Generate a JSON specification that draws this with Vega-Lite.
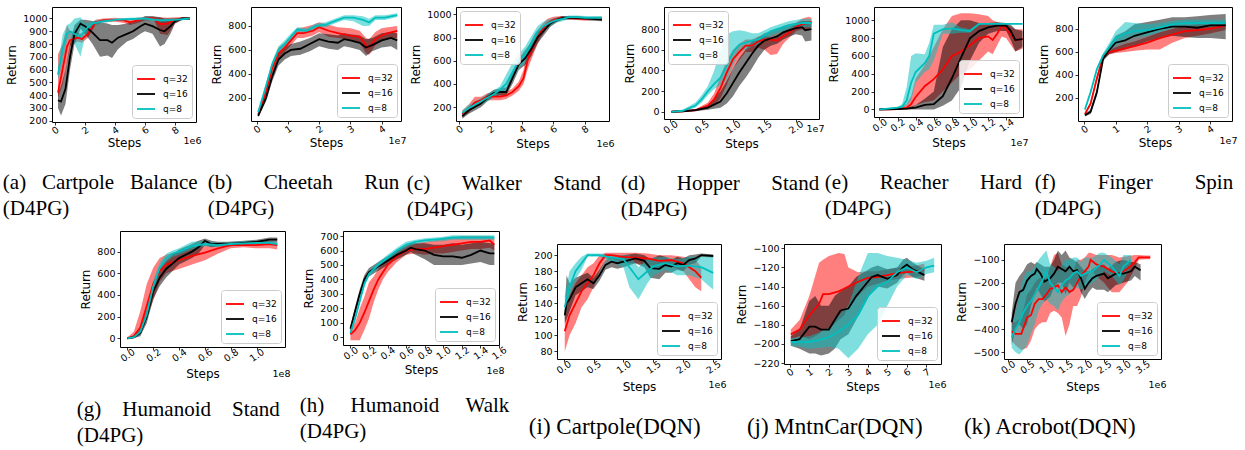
{
"$schema":"https://vega.github.io/schema/vega-lite/v6.json",
"padding":{"left":2,"top":6,"right":0,"bottom":0},
"config":{
 "view":{"stroke":"#000","strokeWidth":1},
 "font":"DejaVu Sans",
 "axis":{"labelFont":"DejaVu Sans","labelFontSize":9.5,"labelColor":"#000","titleFont":"DejaVu Sans","titleFontSize":12,"titleFontWeight":"normal","titleColor":"#000","tickColor":"#000","tickSize":3,"tickWidth":0.8,"domain":false,"grid":false,"labelFlush":false,"labelOverlap":false,"labelPadding":2,"titlePadding":4},
 "axisX":{"labelAngle":-35,"labelAlign":"center","labelBaseline":"middle","labelPadding":5,"titleBaseline":"middle"},
 "axisRight":{"labels":false,"ticks":false,"domain":false,"titleAngle":0,"titleAlign":"right","titleBaseline":"middle","titleX":5,"titleFontSize":9.5},
 "legend":{"orient":"bottom-right","offset":4,"padding":4,"strokeColor":"#cccccc","fillColor":"rgba(255,255,255,0.85)","cornerRadius":3,"symbolType":"stroke","symbolSize":324,"symbolStrokeWidth":1.8,"symbolOpacity":1,"labelFont":"DejaVu Sans","labelFontSize":9,"labelColor":"#000","labelOffset":7,"rowPadding":-3.5},
 "title":{"font":"Liberation Serif","fontSize":21,"fontWeight":"normal","color":"#000","orient":"bottom","anchor":"start","frame":"bounds","lineHeight":26,"offset":24,"dx":-3}
},
"datasets":{
"a":[
{"q":"q=32","x":0.2,"y":420,"l":380,"h":720},{"q":"q=32","x":0.5,"y":600,"l":480,"h":800},{"q":"q=32","x":0.8,"y":780,"l":650,"h":950},{"q":"q=32","x":1.0,"y":830,"l":780,"h":900},{"q":"q=32","x":1.5,"y":850,"l":820,"h":890},{"q":"q=32","x":1.8,"y":840,"l":810,"h":880},{"q":"q=32","x":2.2,"y":880,"l":850,"h":920},{"q":"q=32","x":2.7,"y":970,"l":950,"h":990},{"q":"q=32","x":3.2,"y":985,"l":970,"h":1000},{"q":"q=32","x":4.0,"y":990,"l":975,"h":1005},{"q":"q=32","x":4.6,"y":985,"l":965,"h":1000},{"q":"q=32","x":5.0,"y":970,"l":950,"h":1000},{"q":"q=32","x":5.5,"y":985,"l":965,"h":1005},{"q":"q=32","x":6.0,"y":1000,"l":985,"h":1010},{"q":"q=32","x":6.6,"y":1000,"l":990,"h":1010},{"q":"q=32","x":7.0,"y":955,"l":880,"h":1010},{"q":"q=32","x":7.5,"y":960,"l":870,"h":1005},{"q":"q=32","x":8.0,"y":990,"l":960,"h":1010},{"q":"q=32","x":8.5,"y":1000,"l":990,"h":1010},{"q":"q=32","x":9.0,"y":1000,"l":990,"h":1008},
{"q":"q=16","x":0.2,"y":360,"l":300,"h":420},{"q":"q=16","x":0.4,"y":350,"l":240,"h":470},{"q":"q=16","x":0.7,"y":450,"l":330,"h":600},{"q":"q=16","x":1.0,"y":700,"l":600,"h":800},{"q":"q=16","x":1.3,"y":880,"l":800,"h":950},{"q":"q=16","x":1.7,"y":960,"l":920,"h":990},{"q":"q=16","x":2.0,"y":940,"l":880,"h":990},{"q":"q=16","x":2.5,"y":890,"l":800,"h":980},{"q":"q=16","x":3.0,"y":830,"l":700,"h":970},{"q":"q=16","x":3.5,"y":830,"l":710,"h":960},{"q":"q=16","x":3.8,"y":810,"l":690,"h":950},{"q":"q=16","x":4.2,"y":850,"l":760,"h":950},{"q":"q=16","x":4.8,"y":880,"l":820,"h":960},{"q":"q=16","x":5.2,"y":900,"l":840,"h":970},{"q":"q=16","x":5.7,"y":940,"l":880,"h":1000},{"q":"q=16","x":6.0,"y":960,"l":900,"h":1020},{"q":"q=16","x":6.5,"y":940,"l":880,"h":1020},{"q":"q=16","x":7.0,"y":910,"l":780,"h":1010},{"q":"q=16","x":7.3,"y":900,"l":800,"h":1000},{"q":"q=16","x":7.7,"y":940,"l":880,"h":1000},{"q":"q=16","x":8.0,"y":980,"l":960,"h":1000},{"q":"q=16","x":8.5,"y":1000,"l":990,"h":1010},{"q":"q=16","x":9.0,"y":1000,"l":990,"h":1008},
{"q":"q=8","x":0.2,"y":560,"l":520,"h":620},{"q":"q=8","x":0.5,"y":760,"l":650,"h":870},{"q":"q=8","x":0.8,"y":880,"l":820,"h":950},{"q":"q=8","x":1.0,"y":900,"l":850,"h":960},{"q":"q=8","x":1.3,"y":880,"l":800,"h":1000},{"q":"q=8","x":1.7,"y":860,"l":700,"h":1010},{"q":"q=8","x":2.0,"y":910,"l":860,"h":960},{"q":"q=8","x":2.5,"y":960,"l":940,"h":980},{"q":"q=8","x":3.0,"y":975,"l":960,"h":990},{"q":"q=8","x":4.0,"y":990,"l":980,"h":1000},{"q":"q=8","x":5.0,"y":995,"l":985,"h":1005},{"q":"q=8","x":6.0,"y":1000,"l":990,"h":1010},{"q":"q=8","x":7.0,"y":985,"l":975,"h":995},{"q":"q=8","x":8.0,"y":990,"l":980,"h":1000},{"q":"q=8","x":9.0,"y":1000,"l":995,"h":1005}
],
"b":[
{"q":"q=32","x":0.05,"y":60,"l":45,"h":75},{"q":"q=32","x":0.3,"y":250,"l":220,"h":280},{"q":"q=32","x":0.5,"y":450,"l":410,"h":490},{"q":"q=32","x":0.7,"y":570,"l":520,"h":620},{"q":"q=32","x":0.9,"y":620,"l":580,"h":660},{"q":"q=32","x":1.1,"y":680,"l":640,"h":720},{"q":"q=32","x":1.3,"y":740,"l":700,"h":780},{"q":"q=32","x":1.5,"y":740,"l":700,"h":790},{"q":"q=32","x":1.8,"y":760,"l":720,"h":810},{"q":"q=32","x":2.0,"y":790,"l":750,"h":830},{"q":"q=32","x":2.3,"y":760,"l":710,"h":810},{"q":"q=32","x":2.6,"y":740,"l":700,"h":790},{"q":"q=32","x":3.0,"y":720,"l":680,"h":780},{"q":"q=32","x":3.3,"y":710,"l":660,"h":760},{"q":"q=32","x":3.5,"y":640,"l":570,"h":700},{"q":"q=32","x":3.6,"y":620,"l":560,"h":690},{"q":"q=32","x":3.8,"y":690,"l":640,"h":750},{"q":"q=32","x":4.0,"y":720,"l":670,"h":780},{"q":"q=32","x":4.2,"y":740,"l":690,"h":790},{"q":"q=32","x":4.5,"y":760,"l":700,"h":800},
{"q":"q=16","x":0.05,"y":50,"l":40,"h":60},{"q":"q=16","x":0.3,"y":200,"l":170,"h":230},{"q":"q=16","x":0.5,"y":380,"l":340,"h":420},{"q":"q=16","x":0.7,"y":520,"l":470,"h":570},{"q":"q=16","x":0.9,"y":570,"l":520,"h":620},{"q":"q=16","x":1.1,"y":600,"l":550,"h":650},{"q":"q=16","x":1.4,"y":610,"l":560,"h":670},{"q":"q=16","x":1.7,"y":650,"l":590,"h":700},{"q":"q=16","x":2.0,"y":690,"l":630,"h":740},{"q":"q=16","x":2.3,"y":670,"l":610,"h":730},{"q":"q=16","x":2.6,"y":660,"l":600,"h":720},{"q":"q=16","x":2.8,"y":690,"l":630,"h":740},{"q":"q=16","x":3.0,"y":680,"l":620,"h":730},{"q":"q=16","x":3.3,"y":660,"l":600,"h":720},{"q":"q=16","x":3.5,"y":620,"l":550,"h":690},{"q":"q=16","x":3.7,"y":640,"l":590,"h":700},{"q":"q=16","x":4.0,"y":680,"l":620,"h":740},{"q":"q=16","x":4.3,"y":700,"l":630,"h":750},{"q":"q=16","x":4.5,"y":680,"l":600,"h":740},
{"q":"q=8","x":0.05,"y":80,"l":70,"h":90},{"q":"q=8","x":0.3,"y":300,"l":280,"h":320},{"q":"q=8","x":0.5,"y":480,"l":450,"h":510},{"q":"q=8","x":0.7,"y":600,"l":570,"h":630},{"q":"q=8","x":0.9,"y":650,"l":620,"h":680},{"q":"q=8","x":1.1,"y":710,"l":680,"h":740},{"q":"q=8","x":1.3,"y":770,"l":750,"h":790},{"q":"q=8","x":1.6,"y":760,"l":740,"h":780},{"q":"q=8","x":1.9,"y":800,"l":780,"h":820},{"q":"q=8","x":2.2,"y":810,"l":790,"h":830},{"q":"q=8","x":2.5,"y":840,"l":820,"h":860},{"q":"q=8","x":2.8,"y":870,"l":850,"h":890},{"q":"q=8","x":3.1,"y":870,"l":840,"h":890},{"q":"q=8","x":3.4,"y":850,"l":800,"h":880},{"q":"q=8","x":3.6,"y":830,"l":800,"h":860},{"q":"q=8","x":3.8,"y":870,"l":850,"h":890},{"q":"q=8","x":4.1,"y":870,"l":850,"h":890},{"q":"q=8","x":4.5,"y":890,"l":875,"h":905}
],
"c":[
{"q":"q=32","x":0.2,"y":140,"l":120,"h":170},{"q":"q=32","x":0.6,"y":180,"l":150,"h":220},{"q":"q=32","x":1.0,"y":240,"l":200,"h":290},{"q":"q=32","x":1.4,"y":260,"l":230,"h":290},{"q":"q=32","x":1.8,"y":290,"l":260,"h":320},{"q":"q=32","x":2.2,"y":290,"l":260,"h":320},{"q":"q=32","x":2.6,"y":290,"l":260,"h":320},{"q":"q=32","x":3.0,"y":300,"l":270,"h":330},{"q":"q=32","x":3.4,"y":330,"l":300,"h":360},{"q":"q=32","x":3.8,"y":380,"l":340,"h":420},{"q":"q=32","x":4.1,"y":450,"l":400,"h":520},{"q":"q=32","x":4.4,"y":620,"l":540,"h":720},{"q":"q=32","x":4.8,"y":750,"l":680,"h":830},{"q":"q=32","x":5.2,"y":850,"l":800,"h":900},{"q":"q=32","x":5.6,"y":920,"l":880,"h":960},{"q":"q=32","x":6.0,"y":950,"l":920,"h":980},{"q":"q=32","x":6.5,"y":970,"l":950,"h":985},{"q":"q=32","x":7.0,"y":970,"l":955,"h":985},{"q":"q=32","x":7.5,"y":965,"l":950,"h":980},{"q":"q=32","x":8.0,"y":960,"l":945,"h":975},{"q":"q=32","x":8.5,"y":965,"l":950,"h":980},{"q":"q=32","x":9.1,"y":965,"l":950,"h":980},
{"q":"q=16","x":0.2,"y":120,"l":100,"h":140},{"q":"q=16","x":0.6,"y":170,"l":140,"h":200},{"q":"q=16","x":1.0,"y":200,"l":170,"h":240},{"q":"q=16","x":1.4,"y":230,"l":200,"h":260},{"q":"q=16","x":1.8,"y":280,"l":250,"h":310},{"q":"q=16","x":2.2,"y":320,"l":290,"h":350},{"q":"q=16","x":2.6,"y":330,"l":300,"h":360},{"q":"q=16","x":3.0,"y":330,"l":300,"h":370},{"q":"q=16","x":3.4,"y":450,"l":400,"h":500},{"q":"q=16","x":3.8,"y":570,"l":520,"h":620},{"q":"q=16","x":4.2,"y":620,"l":560,"h":690},{"q":"q=16","x":4.6,"y":700,"l":640,"h":760},{"q":"q=16","x":5.0,"y":800,"l":750,"h":850},{"q":"q=16","x":5.4,"y":860,"l":820,"h":900},{"q":"q=16","x":5.8,"y":920,"l":890,"h":950},{"q":"q=16","x":6.2,"y":950,"l":930,"h":970},{"q":"q=16","x":6.6,"y":970,"l":955,"h":985},{"q":"q=16","x":7.0,"y":970,"l":955,"h":985},{"q":"q=16","x":7.5,"y":970,"l":955,"h":985},{"q":"q=16","x":8.0,"y":965,"l":950,"h":980},{"q":"q=16","x":8.5,"y":960,"l":945,"h":975},{"q":"q=16","x":9.1,"y":955,"l":940,"h":970},
{"q":"q=8","x":0.2,"y":150,"l":130,"h":170},{"q":"q=8","x":0.6,"y":190,"l":160,"h":220},{"q":"q=8","x":1.0,"y":220,"l":190,"h":250},{"q":"q=8","x":1.4,"y":250,"l":220,"h":280},{"q":"q=8","x":1.8,"y":280,"l":250,"h":310},{"q":"q=8","x":2.2,"y":310,"l":280,"h":340},{"q":"q=8","x":2.6,"y":350,"l":320,"h":380},{"q":"q=8","x":3.0,"y":400,"l":330,"h":480},{"q":"q=8","x":3.4,"y":500,"l":430,"h":580},{"q":"q=8","x":3.8,"y":600,"l":540,"h":660},{"q":"q=8","x":4.2,"y":650,"l":580,"h":720},{"q":"q=8","x":4.6,"y":750,"l":690,"h":810},{"q":"q=8","x":5.0,"y":850,"l":800,"h":900},{"q":"q=8","x":5.4,"y":900,"l":860,"h":940},{"q":"q=8","x":5.8,"y":930,"l":900,"h":960},{"q":"q=8","x":6.2,"y":950,"l":930,"h":970},{"q":"q=8","x":6.6,"y":960,"l":940,"h":980},{"q":"q=8","x":7.0,"y":975,"l":960,"h":990},{"q":"q=8","x":7.5,"y":975,"l":960,"h":990},{"q":"q=8","x":8.0,"y":970,"l":955,"h":985},{"q":"q=8","x":8.5,"y":970,"l":955,"h":985},{"q":"q=8","x":9.1,"y":970,"l":955,"h":985}
],
"d":[
{"q":"q=32","x":0.02,"y":0,"l":-5,"h":5},{"q":"q=32","x":0.2,"y":5,"l":0,"h":10},{"q":"q=32","x":0.4,"y":15,"l":5,"h":25},{"q":"q=32","x":0.6,"y":60,"l":30,"h":90},{"q":"q=32","x":0.7,"y":120,"l":60,"h":180},{"q":"q=32","x":0.8,"y":230,"l":130,"h":350},{"q":"q=32","x":0.9,"y":380,"l":260,"h":500},{"q":"q=32","x":1.0,"y":510,"l":420,"h":600},{"q":"q=32","x":1.1,"y":580,"l":500,"h":660},{"q":"q=32","x":1.2,"y":640,"l":580,"h":700},{"q":"q=32","x":1.3,"y":640,"l":580,"h":700},{"q":"q=32","x":1.4,"y":680,"l":620,"h":730},{"q":"q=32","x":1.5,"y":700,"l":600,"h":740},{"q":"q=32","x":1.6,"y":700,"l":550,"h":720},{"q":"q=32","x":1.7,"y":690,"l":560,"h":730},{"q":"q=32","x":1.8,"y":730,"l":660,"h":780},{"q":"q=32","x":1.9,"y":770,"l":720,"h":810},{"q":"q=32","x":2.0,"y":820,"l":780,"h":860},{"q":"q=32","x":2.1,"y":850,"l":800,"h":900},{"q":"q=32","x":2.2,"y":860,"l":800,"h":920},{"q":"q=32","x":2.25,"y":870,"l":820,"h":910},
{"q":"q=16","x":0.02,"y":0,"l":-5,"h":5},{"q":"q=16","x":0.2,"y":5,"l":0,"h":10},{"q":"q=16","x":0.4,"y":15,"l":5,"h":25},{"q":"q=16","x":0.6,"y":40,"l":20,"h":60},{"q":"q=16","x":0.8,"y":100,"l":40,"h":200},{"q":"q=16","x":0.9,"y":180,"l":80,"h":300},{"q":"q=16","x":1.0,"y":280,"l":150,"h":420},{"q":"q=16","x":1.1,"y":380,"l":250,"h":520},{"q":"q=16","x":1.2,"y":470,"l":330,"h":600},{"q":"q=16","x":1.3,"y":560,"l":420,"h":680},{"q":"q=16","x":1.4,"y":640,"l":520,"h":720},{"q":"q=16","x":1.5,"y":690,"l":600,"h":760},{"q":"q=16","x":1.6,"y":710,"l":640,"h":780},{"q":"q=16","x":1.7,"y":730,"l":660,"h":800},{"q":"q=16","x":1.8,"y":770,"l":700,"h":830},{"q":"q=16","x":1.9,"y":790,"l":730,"h":850},{"q":"q=16","x":2.0,"y":810,"l":750,"h":860},{"q":"q=16","x":2.1,"y":820,"l":740,"h":880},{"q":"q=16","x":2.15,"y":790,"l":680,"h":880},{"q":"q=16","x":2.25,"y":800,"l":690,"h":880},
{"q":"q=8","x":0.02,"y":0,"l":-5,"h":5},{"q":"q=8","x":0.2,"y":10,"l":0,"h":20},{"q":"q=8","x":0.4,"y":60,"l":40,"h":90},{"q":"q=8","x":0.5,"y":120,"l":90,"h":160},{"q":"q=8","x":0.6,"y":200,"l":160,"h":250},{"q":"q=8","x":0.7,"y":270,"l":220,"h":400},{"q":"q=8","x":0.8,"y":330,"l":260,"h":600},{"q":"q=8","x":0.9,"y":450,"l":300,"h":750},{"q":"q=8","x":1.0,"y":580,"l":450,"h":780},{"q":"q=8","x":1.1,"y":650,"l":580,"h":790},{"q":"q=8","x":1.2,"y":670,"l":600,"h":780},{"q":"q=8","x":1.3,"y":690,"l":630,"h":760},{"q":"q=8","x":1.4,"y":700,"l":650,"h":760},{"q":"q=8","x":1.5,"y":740,"l":700,"h":790},{"q":"q=8","x":1.6,"y":780,"l":740,"h":820},{"q":"q=8","x":1.7,"y":800,"l":760,"h":840},{"q":"q=8","x":1.8,"y":820,"l":780,"h":860},{"q":"q=8","x":1.9,"y":840,"l":800,"h":880},{"q":"q=8","x":2.0,"y":850,"l":810,"h":890},{"q":"q=8","x":2.1,"y":860,"l":820,"h":900},{"q":"q=8","x":2.25,"y":860,"l":820,"h":900}
],
"e":[
{"q":"q=32","x":0.0,"y":0,"l":-10,"h":10},{"q":"q=32","x":0.1,"y":0,"l":-10,"h":10},{"q":"q=32","x":0.2,"y":5,"l":-5,"h":20},{"q":"q=32","x":0.3,"y":20,"l":0,"h":60},{"q":"q=32","x":0.35,"y":60,"l":10,"h":150},{"q":"q=32","x":0.4,"y":140,"l":50,"h":350},{"q":"q=32","x":0.5,"y":260,"l":80,"h":500},{"q":"q=32","x":0.6,"y":340,"l":100,"h":700},{"q":"q=32","x":0.7,"y":450,"l":200,"h":900},{"q":"q=32","x":0.8,"y":600,"l":300,"h":1050},{"q":"q=32","x":0.9,"y":650,"l":400,"h":1080},{"q":"q=32","x":1.0,"y":720,"l":450,"h":1080},{"q":"q=32","x":1.1,"y":800,"l":550,"h":1070},{"q":"q=32","x":1.2,"y":820,"l":650,"h":1050},{"q":"q=32","x":1.25,"y":780,"l":620,"h":1000},{"q":"q=32","x":1.3,"y":850,"l":720,"h":980},{"q":"q=32","x":1.35,"y":940,"l":820,"h":970},{"q":"q=32","x":1.4,"y":900,"l":800,"h":960},{"q":"q=32","x":1.5,"y":780,"l":650,"h":900},{"q":"q=32","x":1.58,"y":790,"l":680,"h":900},
{"q":"q=16","x":0.0,"y":0,"l":-10,"h":10},{"q":"q=16","x":0.2,"y":5,"l":-5,"h":15},{"q":"q=16","x":0.3,"y":10,"l":0,"h":20},{"q":"q=16","x":0.4,"y":20,"l":0,"h":50},{"q":"q=16","x":0.5,"y":50,"l":0,"h":120},{"q":"q=16","x":0.6,"y":60,"l":0,"h":200},{"q":"q=16","x":0.7,"y":150,"l":40,"h":700},{"q":"q=16","x":0.8,"y":350,"l":100,"h":900},{"q":"q=16","x":0.9,"y":580,"l":250,"h":1000},{"q":"q=16","x":1.0,"y":800,"l":550,"h":1000},{"q":"q=16","x":1.1,"y":880,"l":750,"h":970},{"q":"q=16","x":1.2,"y":920,"l":850,"h":970},{"q":"q=16","x":1.3,"y":940,"l":880,"h":980},{"q":"q=16","x":1.4,"y":940,"l":880,"h":970},{"q":"q=16","x":1.45,"y":880,"l":780,"h":950},{"q":"q=16","x":1.5,"y":780,"l":650,"h":900},{"q":"q=16","x":1.58,"y":790,"l":700,"h":880},
{"q":"q=8","x":0.0,"y":0,"l":-10,"h":10},{"q":"q=8","x":0.1,"y":10,"l":0,"h":20},{"q":"q=8","x":0.2,"y":20,"l":10,"h":30},{"q":"q=8","x":0.25,"y":30,"l":10,"h":60},{"q":"q=8","x":0.3,"y":100,"l":40,"h":250},{"q":"q=8","x":0.35,"y":300,"l":100,"h":600},{"q":"q=8","x":0.4,"y":420,"l":300,"h":630},{"q":"q=8","x":0.5,"y":520,"l":420,"h":620},{"q":"q=8","x":0.55,"y":600,"l":450,"h":750},{"q":"q=8","x":0.6,"y":850,"l":550,"h":950},{"q":"q=8","x":0.7,"y":900,"l":850,"h":950},{"q":"q=8","x":0.8,"y":910,"l":850,"h":980},{"q":"q=8","x":0.9,"y":890,"l":860,"h":920},{"q":"q=8","x":1.0,"y":880,"l":860,"h":900},{"q":"q=8","x":1.1,"y":960,"l":950,"h":970},{"q":"q=8","x":1.2,"y":960,"l":955,"h":965},{"q":"q=8","x":1.4,"y":960,"l":955,"h":965},{"q":"q=8","x":1.58,"y":960,"l":955,"h":965}
],
"f":[
{"q":"q=32","x":0.02,"y":60,"l":50,"h":70},{"q":"q=32","x":0.2,"y":150,"l":130,"h":170},{"q":"q=32","x":0.4,"y":370,"l":340,"h":400},{"q":"q=32","x":0.6,"y":560,"l":540,"h":580},{"q":"q=32","x":0.8,"y":600,"l":580,"h":620},{"q":"q=32","x":1.0,"y":610,"l":590,"h":640},{"q":"q=32","x":1.3,"y":630,"l":600,"h":670},{"q":"q=32","x":1.6,"y":650,"l":610,"h":690},{"q":"q=32","x":2.0,"y":680,"l":620,"h":730},{"q":"q=32","x":2.4,"y":720,"l":620,"h":770},{"q":"q=32","x":2.8,"y":750,"l":680,"h":800},{"q":"q=32","x":3.2,"y":780,"l":720,"h":830},{"q":"q=32","x":3.6,"y":790,"l":740,"h":840},{"q":"q=32","x":4.0,"y":800,"l":760,"h":840},{"q":"q=32","x":4.5,"y":830,"l":790,"h":860},
{"q":"q=16","x":0.02,"y":50,"l":40,"h":60},{"q":"q=16","x":0.2,"y":80,"l":60,"h":100},{"q":"q=16","x":0.4,"y":250,"l":220,"h":280},{"q":"q=16","x":0.6,"y":540,"l":520,"h":560},{"q":"q=16","x":0.8,"y":620,"l":580,"h":660},{"q":"q=16","x":1.0,"y":680,"l":600,"h":740},{"q":"q=16","x":1.3,"y":700,"l":620,"h":780},{"q":"q=16","x":1.6,"y":740,"l":650,"h":840},{"q":"q=16","x":2.0,"y":770,"l":690,"h":860},{"q":"q=16","x":2.4,"y":800,"l":720,"h":880},{"q":"q=16","x":2.8,"y":820,"l":740,"h":900},{"q":"q=16","x":3.2,"y":820,"l":730,"h":900},{"q":"q=16","x":3.6,"y":810,"l":720,"h":910},{"q":"q=16","x":4.0,"y":830,"l":720,"h":920},{"q":"q=16","x":4.5,"y":830,"l":710,"h":930},
{"q":"q=8","x":0.02,"y":100,"l":80,"h":120},{"q":"q=8","x":0.2,"y":250,"l":230,"h":270},{"q":"q=8","x":0.4,"y":450,"l":430,"h":470},{"q":"q=8","x":0.6,"y":570,"l":550,"h":590},{"q":"q=8","x":0.8,"y":640,"l":600,"h":680},{"q":"q=8","x":1.0,"y":720,"l":660,"h":780},{"q":"q=8","x":1.3,"y":760,"l":700,"h":860},{"q":"q=8","x":1.6,"y":780,"l":730,"h":850},{"q":"q=8","x":2.0,"y":790,"l":740,"h":840},{"q":"q=8","x":2.4,"y":810,"l":770,"h":850},{"q":"q=8","x":2.8,"y":840,"l":810,"h":870},{"q":"q=8","x":3.2,"y":850,"l":820,"h":880},{"q":"q=8","x":3.6,"y":850,"l":820,"h":880},{"q":"q=8","x":4.0,"y":850,"l":820,"h":880},{"q":"q=8","x":4.5,"y":850,"l":820,"h":880}
],
"g":[
{"q":"q=32","x":0.0,"y":0,"l":-10,"h":10},{"q":"q=32","x":0.05,"y":20,"l":0,"h":60},{"q":"q=32","x":0.1,"y":100,"l":30,"h":250},{"q":"q=32","x":0.15,"y":300,"l":180,"h":500},{"q":"q=32","x":0.2,"y":500,"l":350,"h":650},{"q":"q=32","x":0.25,"y":620,"l":520,"h":740},{"q":"q=32","x":0.3,"y":680,"l":600,"h":770},{"q":"q=32","x":0.35,"y":700,"l":620,"h":790},{"q":"q=32","x":0.4,"y":720,"l":640,"h":800},{"q":"q=32","x":0.5,"y":760,"l":680,"h":840},{"q":"q=32","x":0.6,"y":790,"l":720,"h":860},{"q":"q=32","x":0.7,"y":830,"l":780,"h":880},{"q":"q=32","x":0.8,"y":860,"l":830,"h":890},{"q":"q=32","x":0.9,"y":860,"l":840,"h":890},{"q":"q=32","x":1.0,"y":860,"l":830,"h":900},{"q":"q=32","x":1.1,"y":870,"l":830,"h":900},{"q":"q=32","x":1.16,"y":860,"l":820,"h":890},
{"q":"q=16","x":0.0,"y":0,"l":-5,"h":5},{"q":"q=16","x":0.05,"y":10,"l":0,"h":20},{"q":"q=16","x":0.1,"y":50,"l":20,"h":90},{"q":"q=16","x":0.15,"y":200,"l":140,"h":260},{"q":"q=16","x":0.2,"y":430,"l":360,"h":500},{"q":"q=16","x":0.25,"y":560,"l":480,"h":640},{"q":"q=16","x":0.3,"y":640,"l":560,"h":720},{"q":"q=16","x":0.35,"y":690,"l":620,"h":770},{"q":"q=16","x":0.4,"y":740,"l":680,"h":820},{"q":"q=16","x":0.5,"y":800,"l":740,"h":870},{"q":"q=16","x":0.55,"y":840,"l":780,"h":900},{"q":"q=16","x":0.6,"y":900,"l":860,"h":920},{"q":"q=16","x":0.65,"y":870,"l":840,"h":900},{"q":"q=16","x":0.7,"y":870,"l":850,"h":890},{"q":"q=16","x":0.8,"y":870,"l":850,"h":890},{"q":"q=16","x":0.9,"y":880,"l":860,"h":900},{"q":"q=16","x":1.0,"y":890,"l":870,"h":910},{"q":"q=16","x":1.1,"y":910,"l":890,"h":930},{"q":"q=16","x":1.16,"y":910,"l":890,"h":930},
{"q":"q=8","x":0.0,"y":0,"l":-5,"h":5},{"q":"q=8","x":0.05,"y":10,"l":0,"h":20},{"q":"q=8","x":0.1,"y":60,"l":30,"h":90},{"q":"q=8","x":0.15,"y":220,"l":180,"h":260},{"q":"q=8","x":0.2,"y":480,"l":430,"h":530},{"q":"q=8","x":0.25,"y":650,"l":600,"h":700},{"q":"q=8","x":0.3,"y":740,"l":700,"h":780},{"q":"q=8","x":0.35,"y":780,"l":750,"h":810},{"q":"q=8","x":0.4,"y":800,"l":770,"h":830},{"q":"q=8","x":0.5,"y":850,"l":820,"h":890},{"q":"q=8","x":0.6,"y":870,"l":850,"h":900},{"q":"q=8","x":0.7,"y":860,"l":840,"h":880},{"q":"q=8","x":0.8,"y":870,"l":850,"h":890},{"q":"q=8","x":0.9,"y":875,"l":855,"h":895},{"q":"q=8","x":1.0,"y":880,"l":860,"h":900},{"q":"q=8","x":1.1,"y":880,"l":860,"h":900},{"q":"q=8","x":1.16,"y":870,"l":850,"h":890}
],
"h":[
{"q":"q=32","x":0.0,"y":20,"l":-20,"h":60},{"q":"q=32","x":0.05,"y":50,"l":-20,"h":100},{"q":"q=32","x":0.1,"y":100,"l":-20,"h":200},{"q":"q=32","x":0.15,"y":170,"l":50,"h":280},{"q":"q=32","x":0.2,"y":250,"l":130,"h":380},{"q":"q=32","x":0.25,"y":330,"l":240,"h":420},{"q":"q=32","x":0.3,"y":400,"l":330,"h":470},{"q":"q=32","x":0.35,"y":450,"l":400,"h":510},{"q":"q=32","x":0.4,"y":500,"l":450,"h":550},{"q":"q=32","x":0.5,"y":560,"l":520,"h":600},{"q":"q=32","x":0.6,"y":600,"l":570,"h":640},{"q":"q=32","x":0.7,"y":610,"l":580,"h":650},{"q":"q=32","x":0.8,"y":610,"l":570,"h":660},{"q":"q=32","x":0.9,"y":620,"l":580,"h":670},{"q":"q=32","x":1.0,"y":630,"l":580,"h":690},{"q":"q=32","x":1.1,"y":640,"l":590,"h":690},{"q":"q=32","x":1.2,"y":650,"l":600,"h":700},{"q":"q=32","x":1.3,"y":660,"l":610,"h":700},{"q":"q=32","x":1.4,"y":660,"l":610,"h":700},{"q":"q=32","x":1.5,"y":670,"l":620,"h":700},{"q":"q=32","x":1.55,"y":640,"l":600,"h":680},
{"q":"q=16","x":0.0,"y":60,"l":40,"h":80},{"q":"q=16","x":0.05,"y":180,"l":150,"h":210},{"q":"q=16","x":0.1,"y":300,"l":270,"h":330},{"q":"q=16","x":0.15,"y":400,"l":370,"h":430},{"q":"q=16","x":0.2,"y":450,"l":420,"h":480},{"q":"q=16","x":0.3,"y":490,"l":460,"h":520},{"q":"q=16","x":0.4,"y":530,"l":500,"h":560},{"q":"q=16","x":0.5,"y":570,"l":540,"h":600},{"q":"q=16","x":0.6,"y":600,"l":570,"h":630},{"q":"q=16","x":0.65,"y":620,"l":590,"h":650},{"q":"q=16","x":0.7,"y":610,"l":570,"h":650},{"q":"q=16","x":0.8,"y":600,"l":540,"h":650},{"q":"q=16","x":0.9,"y":570,"l":500,"h":640},{"q":"q=16","x":1.0,"y":560,"l":500,"h":640},{"q":"q=16","x":1.1,"y":560,"l":500,"h":650},{"q":"q=16","x":1.2,"y":550,"l":500,"h":640},{"q":"q=16","x":1.3,"y":570,"l":510,"h":650},{"q":"q=16","x":1.4,"y":600,"l":520,"h":660},{"q":"q=16","x":1.5,"y":580,"l":500,"h":650},{"q":"q=16","x":1.55,"y":580,"l":500,"h":650},
{"q":"q=8","x":0.0,"y":30,"l":10,"h":50},{"q":"q=8","x":0.05,"y":130,"l":110,"h":150},{"q":"q=8","x":0.1,"y":250,"l":230,"h":270},{"q":"q=8","x":0.15,"y":370,"l":350,"h":390},{"q":"q=8","x":0.2,"y":440,"l":420,"h":460},{"q":"q=8","x":0.3,"y":500,"l":480,"h":520},{"q":"q=8","x":0.4,"y":550,"l":530,"h":570},{"q":"q=8","x":0.5,"y":600,"l":580,"h":620},{"q":"q=8","x":0.6,"y":640,"l":620,"h":660},{"q":"q=8","x":0.7,"y":660,"l":645,"h":675},{"q":"q=8","x":0.8,"y":670,"l":655,"h":685},{"q":"q=8","x":0.9,"y":675,"l":660,"h":690},{"q":"q=8","x":1.0,"y":680,"l":665,"h":695},{"q":"q=8","x":1.1,"y":690,"l":675,"h":705},{"q":"q=8","x":1.2,"y":690,"l":675,"h":705},{"q":"q=8","x":1.3,"y":690,"l":675,"h":705},{"q":"q=8","x":1.4,"y":690,"l":675,"h":705},{"q":"q=8","x":1.5,"y":690,"l":675,"h":705},{"q":"q=8","x":1.55,"y":690,"l":675,"h":705}
],
"i":[
{"q":"q=32","x":0.02,"y":105,"l":80,"h":130},{"q":"q=32","x":0.1,"y":125,"l":100,"h":150},{"q":"q=32","x":0.2,"y":140,"l":115,"h":165},{"q":"q=32","x":0.3,"y":155,"l":135,"h":175},{"q":"q=32","x":0.4,"y":165,"l":145,"h":185},{"q":"q=32","x":0.5,"y":175,"l":160,"h":190},{"q":"q=32","x":0.6,"y":190,"l":180,"h":200},{"q":"q=32","x":0.7,"y":200,"l":195,"h":203},{"q":"q=32","x":0.8,"y":200,"l":196,"h":203},{"q":"q=32","x":1.0,"y":198,"l":190,"h":203},{"q":"q=32","x":1.2,"y":197,"l":190,"h":203},{"q":"q=32","x":1.4,"y":196,"l":188,"h":202},{"q":"q=32","x":1.6,"y":193,"l":185,"h":200},{"q":"q=32","x":1.8,"y":194,"l":186,"h":200},{"q":"q=32","x":2.0,"y":190,"l":180,"h":198},{"q":"q=32","x":2.1,"y":185,"l":170,"h":197},{"q":"q=32","x":2.2,"y":180,"l":160,"h":195},{"q":"q=32","x":2.3,"y":172,"l":155,"h":185},
{"q":"q=16","x":0.02,"y":125,"l":115,"h":135},{"q":"q=16","x":0.05,"y":140,"l":120,"h":175},{"q":"q=16","x":0.1,"y":145,"l":130,"h":165},{"q":"q=16","x":0.2,"y":160,"l":150,"h":172},{"q":"q=16","x":0.3,"y":165,"l":155,"h":175},{"q":"q=16","x":0.4,"y":170,"l":160,"h":178},{"q":"q=16","x":0.5,"y":165,"l":158,"h":172},{"q":"q=16","x":0.6,"y":175,"l":168,"h":182},{"q":"q=16","x":0.7,"y":188,"l":182,"h":194},{"q":"q=16","x":0.8,"y":192,"l":185,"h":198},{"q":"q=16","x":0.9,"y":190,"l":183,"h":197},{"q":"q=16","x":1.0,"y":192,"l":185,"h":200},{"q":"q=16","x":1.2,"y":196,"l":190,"h":202},{"q":"q=16","x":1.35,"y":193,"l":185,"h":200},{"q":"q=16","x":1.45,"y":184,"l":172,"h":195},{"q":"q=16","x":1.6,"y":183,"l":170,"h":200},{"q":"q=16","x":1.7,"y":188,"l":178,"h":198},{"q":"q=16","x":1.8,"y":186,"l":178,"h":194},{"q":"q=16","x":1.9,"y":190,"l":182,"h":198},{"q":"q=16","x":2.0,"y":188,"l":180,"h":196},{"q":"q=16","x":2.1,"y":194,"l":188,"h":200},{"q":"q=16","x":2.2,"y":196,"l":190,"h":201},{"q":"q=16","x":2.3,"y":200,"l":198,"h":202},{"q":"q=16","x":2.5,"y":199,"l":197,"h":201},
{"q":"q=8","x":0.02,"y":135,"l":120,"h":150},{"q":"q=8","x":0.1,"y":160,"l":150,"h":180},{"q":"q=8","x":0.2,"y":180,"l":170,"h":190},{"q":"q=8","x":0.3,"y":190,"l":182,"h":198},{"q":"q=8","x":0.4,"y":200,"l":198,"h":202},{"q":"q=8","x":0.6,"y":200,"l":198,"h":202},{"q":"q=8","x":0.8,"y":197,"l":192,"h":201},{"q":"q=8","x":1.0,"y":195,"l":185,"h":200},{"q":"q=8","x":1.1,"y":185,"l":160,"h":200},{"q":"q=8","x":1.25,"y":170,"l":145,"h":185},{"q":"q=8","x":1.4,"y":180,"l":165,"h":195},{"q":"q=8","x":1.5,"y":186,"l":175,"h":197},{"q":"q=8","x":1.7,"y":190,"l":182,"h":198},{"q":"q=8","x":1.9,"y":186,"l":175,"h":195},{"q":"q=8","x":2.1,"y":187,"l":175,"h":198},{"q":"q=8","x":2.3,"y":185,"l":170,"h":198},{"q":"q=8","x":2.5,"y":178,"l":157,"h":199}
],
"j":[
{"q":"q=32","x":0.05,"y":-190,"l":-195,"h":-185},{"q":"q=32","x":0.5,"y":-185,"l":-192,"h":-175},{"q":"q=32","x":1.0,"y":-170,"l":-195,"h":-150},{"q":"q=32","x":1.5,"y":-158,"l":-190,"h":-115},{"q":"q=32","x":1.7,"y":-148,"l":-185,"h":-112},{"q":"q=32","x":2.0,"y":-148,"l":-185,"h":-108},{"q":"q=32","x":2.5,"y":-145,"l":-175,"h":-105},{"q":"q=32","x":2.8,"y":-142,"l":-170,"h":-106},{"q":"q=32","x":3.0,"y":-140,"l":-160,"h":-120},{"q":"q=32","x":3.5,"y":-135,"l":-150,"h":-125},{"q":"q=32","x":4.0,"y":-131,"l":-140,"h":-124},{"q":"q=32","x":4.5,"y":-130,"l":-137,"h":-124},{"q":"q=32","x":5.0,"y":-128,"l":-134,"h":-122},{"q":"q=32","x":5.5,"y":-126,"l":-132,"h":-120},{"q":"q=32","x":6.0,"y":-125,"l":-131,"h":-119},{"q":"q=32","x":6.5,"y":-124,"l":-130,"h":-118},{"q":"q=32","x":6.9,"y":-122,"l":-128,"h":-116},
{"q":"q=16","x":0.05,"y":-197,"l":-202,"h":-192},{"q":"q=16","x":0.5,"y":-195,"l":-205,"h":-185},{"q":"q=16","x":1.0,"y":-182,"l":-210,"h":-155},{"q":"q=16","x":1.3,"y":-182,"l":-210,"h":-150},{"q":"q=16","x":1.6,"y":-185,"l":-212,"h":-160},{"q":"q=16","x":2.0,"y":-185,"l":-210,"h":-160},{"q":"q=16","x":2.3,"y":-175,"l":-205,"h":-150},{"q":"q=16","x":2.6,"y":-165,"l":-195,"h":-145},{"q":"q=16","x":3.0,"y":-163,"l":-190,"h":-140},{"q":"q=16","x":3.4,"y":-150,"l":-175,"h":-130},{"q":"q=16","x":3.8,"y":-140,"l":-160,"h":-125},{"q":"q=16","x":4.2,"y":-130,"l":-145,"h":-120},{"q":"q=16","x":4.5,"y":-128,"l":-140,"h":-118},{"q":"q=16","x":5.0,"y":-132,"l":-142,"h":-122},{"q":"q=16","x":5.5,"y":-128,"l":-136,"h":-120},{"q":"q=16","x":5.8,"y":-120,"l":-128,"h":-112},{"q":"q=16","x":6.0,"y":-117,"l":-125,"h":-110},{"q":"q=16","x":6.3,"y":-122,"l":-130,"h":-115},{"q":"q=16","x":6.9,"y":-128,"l":-134,"h":-122},
{"q":"q=8","x":0.05,"y":-198,"l":-202,"h":-194},{"q":"q=8","x":0.5,"y":-198,"l":-203,"h":-193},{"q":"q=8","x":1.0,"y":-198,"l":-205,"h":-192},{"q":"q=8","x":1.5,"y":-196,"l":-204,"h":-188},{"q":"q=8","x":2.0,"y":-193,"l":-203,"h":-183},{"q":"q=8","x":2.5,"y":-187,"l":-205,"h":-170},{"q":"q=8","x":3.0,"y":-180,"l":-215,"h":-160},{"q":"q=8","x":3.5,"y":-170,"l":-205,"h":-130},{"q":"q=8","x":4.0,"y":-150,"l":-190,"h":-105},{"q":"q=8","x":4.5,"y":-140,"l":-180,"h":-105},{"q":"q=8","x":5.0,"y":-135,"l":-160,"h":-108},{"q":"q=8","x":5.5,"y":-125,"l":-140,"h":-110},{"q":"q=8","x":6.0,"y":-120,"l":-128,"h":-112},{"q":"q=8","x":6.5,"y":-125,"l":-132,"h":-115},{"q":"q=8","x":7.0,"y":-120,"l":-127,"h":-113},{"q":"q=8","x":7.4,"y":-118,"l":-125,"h":-110}
],
"k":[
{"q":"q=32","x":0.1,"y":-410,"l":-450,"h":-370},{"q":"q=32","x":0.2,"y":-420,"l":-470,"h":-370},{"q":"q=32","x":0.35,"y":-420,"l":-490,"h":-350},{"q":"q=32","x":0.5,"y":-350,"l":-480,"h":-250},{"q":"q=32","x":0.6,"y":-340,"l":-450,"h":-230},{"q":"q=32","x":0.7,"y":-290,"l":-400,"h":-200},{"q":"q=32","x":0.8,"y":-270,"l":-380,"h":-180},{"q":"q=32","x":0.9,"y":-270,"l":-370,"h":-180},{"q":"q=32","x":1.0,"y":-250,"l":-370,"h":-180},{"q":"q=32","x":1.1,"y":-225,"l":-330,"h":-130},{"q":"q=32","x":1.2,"y":-220,"l":-320,"h":-80},{"q":"q=32","x":1.3,"y":-210,"l":-330,"h":-70},{"q":"q=32","x":1.4,"y":-240,"l":-350,"h":-120},{"q":"q=32","x":1.5,"y":-220,"l":-430,"h":-130},{"q":"q=32","x":1.6,"y":-240,"l":-380,"h":-140},{"q":"q=32","x":1.7,"y":-230,"l":-300,"h":-150},{"q":"q=32","x":1.8,"y":-200,"l":-300,"h":-100},{"q":"q=32","x":1.9,"y":-170,"l":-260,"h":-100},{"q":"q=32","x":2.0,"y":-150,"l":-200,"h":-90},{"q":"q=32","x":2.1,"y":-130,"l":-160,"h":-70},{"q":"q=32","x":2.15,"y":-100,"l":-140,"h":-70},{"q":"q=32","x":2.3,"y":-120,"l":-170,"h":-80},{"q":"q=32","x":2.5,"y":-130,"l":-200,"h":-80},{"q":"q=32","x":2.7,"y":-150,"l":-240,"h":-80},{"q":"q=32","x":2.9,"y":-160,"l":-240,"h":-90},{"q":"q=32","x":3.1,"y":-140,"l":-200,"h":-85},{"q":"q=32","x":3.3,"y":-110,"l":-140,"h":-80},{"q":"q=32","x":3.4,"y":-90,"l":-100,"h":-80},{"q":"q=32","x":3.6,"y":-90,"l":-98,"h":-82},{"q":"q=32","x":3.7,"y":-90,"l":-98,"h":-82},
{"q":"q=16","x":0.1,"y":-370,"l":-470,"h":-330},{"q":"q=16","x":0.2,"y":-290,"l":-400,"h":-200},{"q":"q=16","x":0.3,"y":-240,"l":-380,"h":-170},{"q":"q=16","x":0.4,"y":-230,"l":-400,"h":-150},{"q":"q=16","x":0.5,"y":-190,"l":-380,"h":-120},{"q":"q=16","x":0.6,"y":-170,"l":-300,"h":-110},{"q":"q=16","x":0.7,"y":-160,"l":-250,"h":-120},{"q":"q=16","x":0.75,"y":-140,"l":-220,"h":-110},{"q":"q=16","x":0.85,"y":-160,"l":-250,"h":-120},{"q":"q=16","x":0.95,"y":-195,"l":-280,"h":-130},{"q":"q=16","x":1.1,"y":-180,"l":-260,"h":-130},{"q":"q=16","x":1.2,"y":-160,"l":-220,"h":-100},{"q":"q=16","x":1.3,"y":-130,"l":-200,"h":-60},{"q":"q=16","x":1.4,"y":-140,"l":-200,"h":-80},{"q":"q=16","x":1.5,"y":-150,"l":-250,"h":-60},{"q":"q=16","x":1.6,"y":-130,"l":-200,"h":-90},{"q":"q=16","x":1.7,"y":-150,"l":-220,"h":-100},{"q":"q=16","x":1.8,"y":-145,"l":-200,"h":-110},{"q":"q=16","x":1.9,"y":-180,"l":-240,"h":-130},{"q":"q=16","x":2.0,"y":-225,"l":-270,"h":-150},{"q":"q=16","x":2.1,"y":-200,"l":-240,"h":-150},{"q":"q=16","x":2.2,"y":-180,"l":-220,"h":-140},{"q":"q=16","x":2.3,"y":-170,"l":-230,"h":-130},{"q":"q=16","x":2.5,"y":-160,"l":-230,"h":-120},{"q":"q=16","x":2.6,"y":-180,"l":-240,"h":-140},{"q":"q=16","x":2.8,"y":-160,"l":-210,"h":-110},{"q":"q=16","x":3.0,"y":-160,"l":-200,"h":-100},{"q":"q=16","x":3.2,"y":-150,"l":-190,"h":-110},{"q":"q=16","x":3.3,"y":-130,"l":-170,"h":-110},{"q":"q=16","x":3.45,"y":-145,"l":-190,"h":-120},
{"q":"q=8","x":0.1,"y":-435,"l":-480,"h":-390},{"q":"q=8","x":0.2,"y":-400,"l":-500,"h":-330},{"q":"q=8","x":0.3,"y":-370,"l":-510,"h":-250},{"q":"q=8","x":0.4,"y":-330,"l":-490,"h":-180},{"q":"q=8","x":0.5,"y":-300,"l":-470,"h":-150},{"q":"q=8","x":0.6,"y":-280,"l":-420,"h":-150},{"q":"q=8","x":0.7,"y":-250,"l":-380,"h":-130},{"q":"q=8","x":0.8,"y":-220,"l":-320,"h":-100},{"q":"q=8","x":0.9,"y":-190,"l":-290,"h":-80},{"q":"q=8","x":1.0,"y":-150,"l":-270,"h":-60},{"q":"q=8","x":1.1,"y":-200,"l":-290,"h":-120},{"q":"q=8","x":1.2,"y":-220,"l":-300,"h":-130},{"q":"q=8","x":1.3,"y":-240,"l":-320,"h":-150},{"q":"q=8","x":1.4,"y":-210,"l":-280,"h":-120},{"q":"q=8","x":1.5,"y":-190,"l":-260,"h":-100},{"q":"q=8","x":1.6,"y":-180,"l":-250,"h":-100},{"q":"q=8","x":1.7,"y":-160,"l":-230,"h":-90},{"q":"q=8","x":1.8,"y":-150,"l":-220,"h":-90},{"q":"q=8","x":1.9,"y":-170,"l":-230,"h":-110},{"q":"q=8","x":2.0,"y":-160,"l":-220,"h":-90},{"q":"q=8","x":2.2,"y":-150,"l":-200,"h":-90},{"q":"q=8","x":2.4,"y":-120,"l":-170,"h":-70},{"q":"q=8","x":2.5,"y":-100,"l":-150,"h":-70},{"q":"q=8","x":2.7,"y":-130,"l":-170,"h":-90},{"q":"q=8","x":2.9,"y":-170,"l":-210,"h":-120},{"q":"q=8","x":3.0,"y":-130,"l":-190,"h":-80},{"q":"q=8","x":3.2,"y":-100,"l":-130,"h":-80}
]
},
"vconcat":[
{"hconcat":[
{"data":{"name":"a"},"width":144,"height":115,"title":{"text":["(a)\u00a0\u00a0\u00a0Cartpole\u00a0\u00a0\u00a0Balance","(D4PG)"]},
"encoding":{"x":{"field":"x","type":"quantitative","scale":{"domain":[-0.2,9.4],"nice":false},"axis":{"title":"Steps","values":[0,2,4,6,8],"format":"d","titleY":20}}},
"layer":[
{"mark":{"type":"area","opacity":0.5},"encoding":{"y":{"field":"l","type":"quantitative","scale":{"domain":[190,1090],"nice":false},"axis":{"title":"Return","values":[200,300,400,500,600,700,800,900,1000],"format":"d"}},"y2":{"field":"h"},"fill":{"field":"q","type":"nominal","scale":{"domain":["q=8","q=16","q=32"],"range":["#00bfbf","#000000","#ff0000"]},"legend":null}}},
{"mark":{"type":"line","strokeWidth":1.8},"encoding":{"y":{"field":"y","type":"quantitative","scale":{"domain":[190,1090],"nice":false},"axis":{"orient":"right","title":"1e6","titleY":133}},"color":{"field":"q","type":"nominal","scale":{"domain":["q=32","q=16","q=8"],"range":["#ff0000","#000000","#00bfbf"]},"legend":{"title":null}}}}],
"resolve":{"axis":{"y":"independent"}}},
{"data":{"name":"b"},"width":150,"height":114,"title":{"text":["(b)\u00a0\u00a0\u00a0\u00a0\u00a0\u00a0Cheetah\u00a0\u00a0\u00a0\u00a0\u00a0\u00a0Run","(D4PG)"]},
"encoding":{"x":{"field":"x","type":"quantitative","scale":{"domain":[-0.18,4.62],"nice":false},"axis":{"title":"Steps","values":[0,1,2,3,4],"format":"d","titleY":21}}},
"layer":[
{"mark":{"type":"area","opacity":0.5},"encoding":{"y":{"field":"l","type":"quantitative","scale":{"domain":[8,958],"nice":false},"axis":{"title":"Return","values":[200,400,600,800],"format":"d"}},"y2":{"field":"h"},"fill":{"field":"q","type":"nominal","scale":{"domain":["q=8","q=16","q=32"],"range":["#00bfbf","#000000","#ff0000"]},"legend":null}}},
{"mark":{"type":"line","strokeWidth":1.8},"encoding":{"y":{"field":"y","type":"quantitative","scale":{"domain":[8,958],"nice":false},"axis":{"orient":"right","title":"1e7","titleY":133}},"color":{"field":"q","type":"nominal","scale":{"domain":["q=32","q=16","q=8"],"range":["#ff0000","#000000","#00bfbf"]},"legend":{"title":null}}}}],
"resolve":{"axis":{"y":"independent"}}},
{"data":{"name":"c"},"width":153,"height":114,"title":{"text":["(c)\u00a0\u00a0\u00a0\u00a0\u00a0\u00a0Walker\u00a0\u00a0\u00a0\u00a0\u00a0\u00a0Stand","(D4PG)"]},
"encoding":{"x":{"field":"x","type":"quantitative","scale":{"domain":[-0.2,9.55],"nice":false},"axis":{"title":"Steps","values":[0,2,4,6,8],"format":"d","titleY":22}}},
"layer":[
{"mark":{"type":"area","opacity":0.5},"encoding":{"y":{"field":"l","type":"quantitative","scale":{"domain":[80,1063],"nice":false},"axis":{"title":"Return","values":[200,400,600,800,1000],"format":"d"}},"y2":{"field":"h"},"fill":{"field":"q","type":"nominal","scale":{"domain":["q=8","q=16","q=32"],"range":["#00bfbf","#000000","#ff0000"]},"legend":null}}},
{"mark":{"type":"line","strokeWidth":1.8},"encoding":{"y":{"field":"y","type":"quantitative","scale":{"domain":[80,1063],"nice":false},"axis":{"orient":"right","title":"1e6","titleY":136}},"color":{"field":"q","type":"nominal","scale":{"domain":["q=32","q=16","q=8"],"range":["#ff0000","#000000","#00bfbf"]},"legend":{"title":null,"orient":"top-left"}}}}],
"resolve":{"axis":{"y":"independent"}}},
{"data":{"name":"d"},"width":155,"height":112,"title":{"text":["(d)\u00a0\u00a0\u00a0\u00a0\u00a0\u00a0Hopper\u00a0\u00a0\u00a0\u00a0\u00a0\u00a0Stand","(D4PG)"]},
"encoding":{"x":{"field":"x","type":"quantitative","scale":{"domain":[-0.1,2.37],"nice":false},"axis":{"title":"Steps","values":[0,0.5,1,1.5,2],"format":".1f","titleY":24}}},
"layer":[
{"mark":{"type":"area","opacity":0.5},"encoding":{"y":{"field":"l","type":"quantitative","scale":{"domain":[-70,1015],"nice":false},"axis":{"title":"Return","values":[0,200,400,600,800],"format":"d"}},"y2":{"field":"h"},"fill":{"field":"q","type":"nominal","scale":{"domain":["q=8","q=16","q=32"],"range":["#00bfbf","#000000","#ff0000"]},"legend":null}}},
{"mark":{"type":"line","strokeWidth":1.8},"encoding":{"y":{"field":"y","type":"quantitative","scale":{"domain":[-70,1015],"nice":false},"axis":{"orient":"right","title":"1e7","titleY":121}},"color":{"field":"q","type":"nominal","scale":{"domain":["q=32","q=16","q=8"],"range":["#ff0000","#000000","#00bfbf"]},"legend":{"title":null,"orient":"top-left"}}}}],
"resolve":{"axis":{"y":"independent"}}},
{"data":{"name":"e"},"width":149,"height":110,"title":{"text":["(e)\u00a0\u00a0\u00a0\u00a0\u00a0\u00a0Reacher\u00a0\u00a0\u00a0\u00a0\u00a0\u00a0Hard","(D4PG)"]},
"encoding":{"x":{"field":"x","type":"quantitative","scale":{"domain":[-0.06,1.585],"nice":false},"axis":{"title":"Steps","values":[0,0.2,0.4,0.6,0.8,1.0,1.2,1.4,1.6],"format":".1f","titleY":25}}},
"layer":[
{"mark":{"type":"area","opacity":0.5},"encoding":{"y":{"field":"l","type":"quantitative","scale":{"domain":[-85,1150],"nice":false},"axis":{"title":"Return","values":[0,200,400,600,800,1000],"format":"d"}},"y2":{"field":"h"},"fill":{"field":"q","type":"nominal","scale":{"domain":["q=8","q=16","q=32"],"range":["#00bfbf","#000000","#ff0000"]},"legend":null}}},
{"mark":{"type":"line","strokeWidth":1.8},"encoding":{"y":{"field":"y","type":"quantitative","scale":{"domain":[-85,1150],"nice":false},"axis":{"orient":"right","title":"1e7","titleY":135}},"color":{"field":"q","type":"nominal","scale":{"domain":["q=32","q=16","q=8"],"range":["#ff0000","#000000","#00bfbf"]},"legend":{"title":null}}}}],
"resolve":{"axis":{"y":"independent"}}},
{"data":{"name":"f"},"width":154,"height":114,"title":{"text":["(f)\u00a0\u00a0\u00a0\u00a0\u00a0\u00a0\u00a0\u00a0Finger\u00a0\u00a0\u00a0\u00a0\u00a0\u00a0\u00a0\u00a0Spin","(D4PG)"]},
"encoding":{"x":{"field":"x","type":"quantitative","scale":{"domain":[-0.2,4.7],"nice":false},"axis":{"title":"Steps","values":[0,1,2,3,4],"format":"d","titleY":21}}},
"layer":[
{"mark":{"type":"area","opacity":0.5},"encoding":{"y":{"field":"l","type":"quantitative","scale":{"domain":[0,990],"nice":false},"axis":{"title":"Return","values":[200,400,600,800],"format":"d"}},"y2":{"field":"h"},"fill":{"field":"q","type":"nominal","scale":{"domain":["q=8","q=16","q=32"],"range":["#00bfbf","#000000","#ff0000"]},"legend":null}}},
{"mark":{"type":"line","strokeWidth":1.8},"encoding":{"y":{"field":"y","type":"quantitative","scale":{"domain":[0,990],"nice":false},"axis":{"orient":"right","title":"1e7","titleY":133}},"color":{"field":"q","type":"nominal","scale":{"domain":["q=32","q=16","q=8"],"range":["#ff0000","#000000","#00bfbf"]},"legend":{"title":null}}}}],
"resolve":{"axis":{"y":"independent"}}}
],"spacing":55,"bounds":"flush","resolve":{"scale":{"x":"independent","y":"independent","color":"independent","fill":"independent"},"legend":{"color":"independent"}}},
{"hconcat":[
{"data":{"values":[]},"mark":"point","width":10,"height":1,"view":{"stroke":null}},
{"data":{"name":"g"},"width":165,"height":116,"title":{"text":["(g)\u00a0\u00a0\u00a0\u00a0Humanoid\u00a0\u00a0\u00a0\u00a0Stand","(D4PG)"],"offset":20},
"encoding":{"x":{"field":"x","type":"quantitative","scale":{"domain":[-0.057,1.22],"nice":false},"axis":{"title":"Steps","values":[0,0.2,0.4,0.6,0.8,1.0],"format":".1f","titleY":26}}},
"layer":[
{"mark":{"type":"area","opacity":0.5},"encoding":{"y":{"field":"l","type":"quantitative","scale":{"domain":[-80,990],"nice":false},"axis":{"title":"Return","values":[0,200,400,600,800],"format":"d"}},"y2":{"field":"h"},"fill":{"field":"q","type":"nominal","scale":{"domain":["q=8","q=16","q=32"],"range":["#00bfbf","#000000","#ff0000"]},"legend":null}}},
{"mark":{"type":"line","strokeWidth":1.8},"encoding":{"y":{"field":"y","type":"quantitative","scale":{"domain":[-80,990],"nice":false},"axis":{"orient":"right","title":"1e8","titleY":142}},"color":{"field":"q","type":"nominal","scale":{"domain":["q=32","q=16","q=8"],"range":["#ff0000","#000000","#00bfbf"]},"legend":{"title":null}}}}],
"resolve":{"axis":{"y":"independent"}}},
{"data":{"name":"h"},"width":156,"height":114,"title":{"text":["(h)\u00a0\u00a0\u00a0\u00a0\u00a0Humanoid\u00a0\u00a0\u00a0\u00a0\u00a0Walk","(D4PG)"],"offset":20},
"encoding":{"x":{"field":"x","type":"quantitative","scale":{"domain":[-0.08,1.6],"nice":false},"axis":{"title":"Steps","values":[0,0.2,0.4,0.6,0.8,1.0,1.2,1.4,1.6],"format":".1f","titleY":24}}},
"layer":[
{"mark":{"type":"area","opacity":0.5},"encoding":{"y":{"field":"l","type":"quantitative","scale":{"domain":[-53,735],"nice":false},"axis":{"title":"Return","values":[0,100,200,300,400,500,600,700],"format":"d"}},"y2":{"field":"h"},"fill":{"field":"q","type":"nominal","scale":{"domain":["q=8","q=16","q=32"],"range":["#00bfbf","#000000","#ff0000"]},"legend":null}}},
{"mark":{"type":"line","strokeWidth":1.8},"encoding":{"y":{"field":"y","type":"quantitative","scale":{"domain":[-53,735],"nice":false},"axis":{"orient":"right","title":"1e8","titleY":139}},"color":{"field":"q","type":"nominal","scale":{"domain":["q=32","q=16","q=8"],"range":["#ff0000","#000000","#00bfbf"]},"legend":{"title":null}}}}],
"resolve":{"axis":{"y":"independent"}}},
{"vconcat":[
{"data":{"values":[]},"mark":"point","width":10,"height":1,"view":{"stroke":null}},
{"hconcat":[
{"data":{"name":"i"},"width":164,"height":115,"title":{"text":"(i) Cartpole(DQN)","dx":12,"fontSize":23},
"encoding":{"x":{"field":"x","type":"quantitative","scale":{"domain":[-0.11,2.63],"nice":false},"axis":{"title":"Steps","values":[0,0.5,1,1.5,2,2.5],"format":".1f","titleY":27}}},
"layer":[
{"mark":{"type":"area","opacity":0.5},"encoding":{"y":{"field":"l","type":"quantitative","scale":{"domain":[70.5,214],"nice":false},"axis":{"title":"Return","values":[80,100,120,140,160,180,200],"format":"d"}},"y2":{"field":"h"},"fill":{"field":"q","type":"nominal","scale":{"domain":["q=8","q=16","q=32"],"range":["#00bfbf","#000000","#ff0000"]},"legend":null}}},
{"mark":{"type":"line","strokeWidth":1.8},"encoding":{"y":{"field":"y","type":"quantitative","scale":{"domain":[70.5,214],"nice":false},"axis":{"orient":"right","title":"1e6","titleY":140}},"color":{"field":"q","type":"nominal","scale":{"domain":["q=32","q=16","q=8"],"range":["#ff0000","#000000","#00bfbf"]},"legend":{"title":null}}}}],
"resolve":{"axis":{"y":"independent"}}},
{"data":{"name":"j"},"width":157,"height":120,"title":{"text":"(j) MntnCar(DQN)","dx":11,"fontSize":23},
"encoding":{"x":{"field":"x","type":"quantitative","scale":{"domain":[-0.3,7.75],"nice":false},"axis":{"title":"Steps","values":[0,1,2,3,4,5,6,7],"format":"d","titleY":22}}},
"layer":[
{"mark":{"type":"area","opacity":0.5},"encoding":{"y":{"field":"l","type":"quantitative","scale":{"domain":[-221,-95.5],"nice":false},"axis":{"title":"Return","values":[-220,-200,-180,-160,-140,-120,-100],"format":"d"}},"y2":{"field":"h"},"fill":{"field":"q","type":"nominal","scale":{"domain":["q=8","q=16","q=32"],"range":["#00bfbf","#000000","#ff0000"]},"legend":null}}},
{"mark":{"type":"line","strokeWidth":1.8},"encoding":{"y":{"field":"y","type":"quantitative","scale":{"domain":[-221,-95.5],"nice":false},"axis":{"orient":"right","title":"1e6","titleY":140}},"color":{"field":"q","type":"nominal","scale":{"domain":["q=32","q=16","q=8"],"range":["#ff0000","#000000","#00bfbf"]},"legend":{"title":null}}}}],
"resolve":{"axis":{"y":"independent"}}},
{"data":{"name":"k"},"width":157,"height":115,"title":{"text":"(k) Acrobot(DQN)","dx":8,"fontSize":23},
"encoding":{"x":{"field":"x","type":"quantitative","scale":{"domain":[-0.1,3.98],"nice":false},"axis":{"title":"Steps","values":[0,0.5,1,1.5,2,2.5,3,3.5],"format":".1f","titleY":27}}},
"layer":[
{"mark":{"type":"area","opacity":0.5},"encoding":{"y":{"field":"l","type":"quantitative","scale":{"domain":[-529,-32],"nice":false},"axis":{"title":"Return","values":[-500,-400,-300,-200,-100],"format":"d"}},"y2":{"field":"h"},"fill":{"field":"q","type":"nominal","scale":{"domain":["q=8","q=16","q=32"],"range":["#00bfbf","#000000","#ff0000"]},"legend":null}}},
{"mark":{"type":"line","strokeWidth":1.8},"encoding":{"y":{"field":"y","type":"quantitative","scale":{"domain":[-529,-32],"nice":false},"axis":{"orient":"right","title":"1e6","titleY":140}},"color":{"field":"q","type":"nominal","scale":{"domain":["q=32","q=16","q=8"],"range":["#ff0000","#000000","#00bfbf"]},"legend":{"title":null}}}}],
"resolve":{"axis":{"y":"independent"}}}
],"spacing":63,"bounds":"flush","resolve":{"scale":{"x":"independent","y":"independent","color":"independent","fill":"independent"},"legend":{"color":"independent"}}}
],"spacing":12,"bounds":"flush","resolve":{"scale":{"x":"independent","y":"independent","color":"independent","fill":"independent"},"legend":{"color":"independent"}}}
],"spacing":58,"bounds":"flush","resolve":{"scale":{"x":"independent","y":"independent","color":"independent","fill":"independent"},"legend":{"color":"independent"}}}
],
"spacing":224,
"bounds":"flush",
"resolve":{"scale":{"x":"independent","y":"independent","color":"independent","fill":"independent"},"legend":{"color":"independent"}}
}
